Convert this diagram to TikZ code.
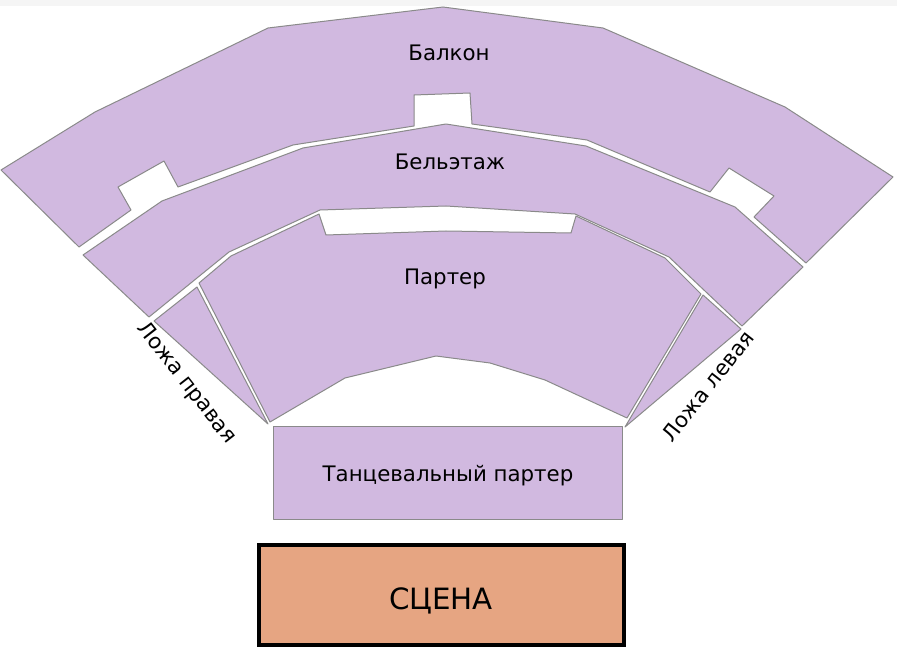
\documentclass[tikz,border=0pt]{standalone}
\usepackage{fontspec}
\setmainfont{DejaVu Sans}
\definecolor{lil}{HTML}{D1B9E0}
\definecolor{edge}{HTML}{8A8A8A}
\definecolor{stage}{HTML}{E6A582}
\begin{document}
\begin{tikzpicture}[x=0.75pt,y=-0.75pt,
  zone/.style={fill=lil,draw=edge,line width=0.75pt,line join=round},
  lbl/.style={font=\fontsize{16}{19}\selectfont,inner sep=0pt}]
\useasboundingbox (0,0) rectangle (897,652);
\fill[black!4] (0,0) rectangle (897,6);
% Balcony
\draw[zone] (1,170) -- (95,112) -- (268,28) -- (443,7) -- (603,28) -- (785,107) -- (893,177) -- (806,263) -- (754,217) -- (774,196) -- (729,168) -- (710,192) -- (587,140) -- (472,124) -- (470,93) -- (414,95) -- (414,126) -- (293,145) -- (178,187) -- (164,161) -- (118,187) -- (131,210) -- (79,247) -- cycle;
% Belletage
\draw[zone] (83,255) -- (162,201) -- (303,148) -- (446,124) -- (586,146) -- (735,207) -- (803,267) -- (742,326) -- (669,257) -- (575,214) -- (446,206) -- (320,210) -- (229,252) -- (149,317) -- cycle;
% Parterre
\draw[zone] (199,283) -- (231,256) -- (319,214) -- (326,235) -- (446,231) -- (571,233) -- (576,216) -- (665,258) -- (701,294) -- (627,418) -- (545,380) -- (490,363) -- (436,356) -- (345,378) -- (270,422) -- cycle;
% Boxes
\draw[zone] (154,321) -- (197,287) -- (268,424) -- cycle;
\draw[zone] (741,329) -- (703,295) -- (625,427) -- cycle;
% Dance parterre
\draw[zone] (273,427) rectangle (622,519);
% Stage
\draw[fill=stage,draw=black,line width=2.6pt] (259,545) rectangle (624,645);
\node[lbl] (balk) at (449,53) {Балкон};
\node[lbl] (bel) at (450,162) {Бельэтаж};
\node[lbl] (part) at (445,279) {Партер};
\node[lbl] (dance) at (448,476) {Танцевальный партер};
\node[inner sep=0pt,font=\fontsize{22}{26}\selectfont] (scena) at (441,601) {СЦЕНА};
\node[lbl,rotate=-52] (lr) at (186,383) {Ложа правая};
\node[lbl,rotate=52] (ll) at (708,386) {Ложа левая};
\end{tikzpicture}
\end{document}
